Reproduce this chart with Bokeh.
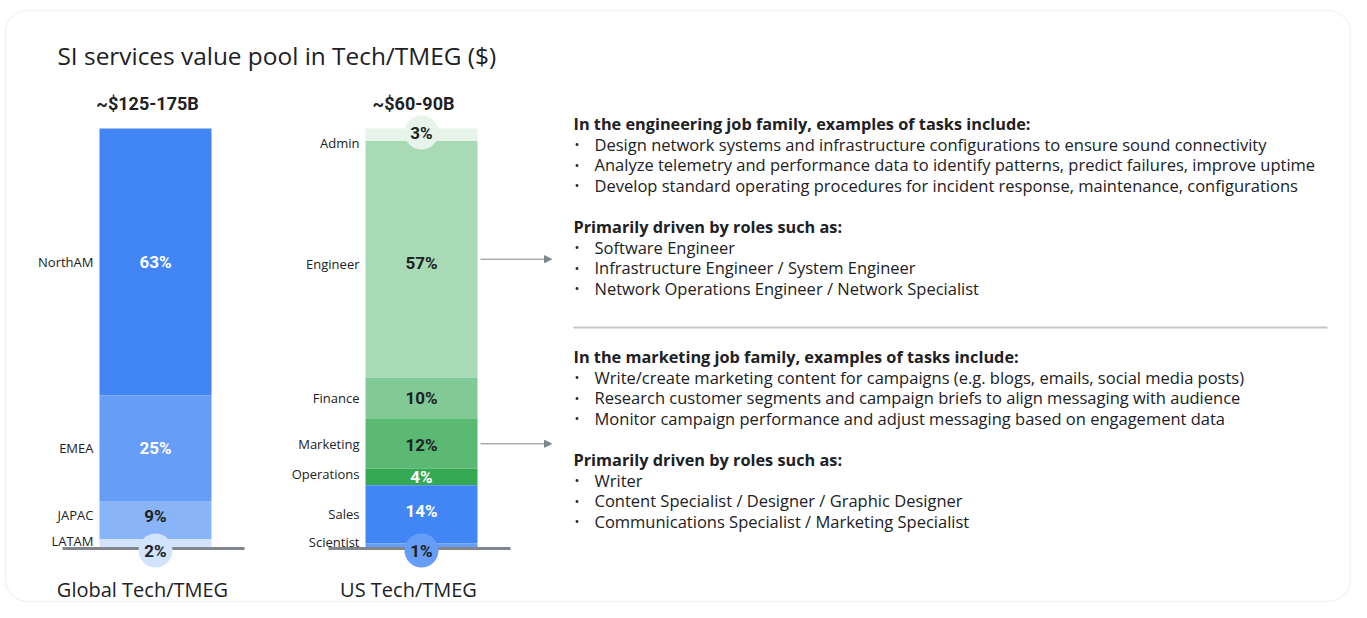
from bokeh.plotting import figure
from bokeh.models import Range1d, Arrow, NormalHead, BoxAnnotation
from bokeh.core.properties import value
from bokeh.embed import file_html
from bokeh.resources import INLINE

# ---------------- data ----------------
chart_title = "SI services value pool in Tech/TMEG ($)"
bar_names = ["Global Tech/TMEG", "US Tech/TMEG"]
bar_totals = ["~$125-175B", "~$60-90B"]

global_regions = ["NorthAM", "EMEA", "JAPAC", "LATAM"]
global_shares = [63, 25, 9, 2]

us_roles = ["Admin", "Engineer", "Finance", "Marketing", "Operations", "Sales", "Scientist"]
us_shares = [3, 57, 10, 12, 4, 14, 1]

eng_header = "In the engineering job family, examples of tasks include:"
eng_tasks = [
    "Design network systems and infrastructure configurations to ensure sound connectivity",
    "Analyze telemetry and performance data to identify patterns, predict failures, improve uptime",
    "Develop standard operating procedures for incident response, maintenance, configurations",
]
roles_header = "Primarily driven by roles such as:"
eng_roles = [
    "Software Engineer",
    "Infrastructure Engineer / System Engineer",
    "Network Operations Engineer / Network Specialist",
]
mkt_header = "In the marketing job family, examples of tasks include:"
mkt_tasks = [
    "Write/create marketing content for campaigns (e.g. blogs, emails, social media posts)",
    "Research customer segments and campaign briefs to align messaging with audience",
    "Monitor campaign performance and adjust messaging based on engagement data",
]
mkt_roles = [
    "Writer",
    "Content Specialist / Designer / Graphic Designer",
    "Communications Specialist / Marketing Specialist",
]

# ---------------- style ----------------
FONT = value("Open Sans")
FONT2 = value("Roboto")
DARK = "#202124"
global_colors = ["#4285f4", "#669df6", "#8ab4f8", "#d2e3fc"]
global_text_colors = ["white", "white", DARK, DARK]
global_cat_offsets = [0, 0, -5, -2]   # px
global_pct_offsets = [0, 0, -4, 0]
us_colors = ["#e6f4ea", "#a8dab5", "#81c995", "#5bb974", "#34a853", "#4285f4", "#669df6"]
us_text_colors = [DARK, DARK, DARK, DARK, "white", "white", DARK]
us_cat_offsets = [8, 5, 0, 0, -3, 0, -3]
us_pct_offsets = [0, 4, 0, 1, 0, -3, 0]

PX = 4.19      # pixels per percent
BASE = 547     # screen y of the 0 line


def Y(sy):
    return (BASE - sy) / PX


p = figure(width=1351, height=602, x_range=Range1d(0, 1351), y_range=Range1d(Y(602), Y(0)),
           output_backend="svg", toolbar_location=None, min_border=0,
           x_axis_location=None, y_axis_location=None)
p.grid.visible = False
p.outline_line_color = None
p.background_fill_color = "white"
p.border_fill_color = "white"

card = BoxAnnotation(left=5, right=1350, top=Y(10), bottom=Y(601), fill_color="white",
                     fill_alpha=1, line_color="#d6d6d6", line_width=1.5, border_radius=22,
                     level="underlay")
p.add_layout(card)

p.text(x=[57], y=[Y(55)], text=[chart_title], text_font=FONT, text_font_size="24.4px",
       text_color=DARK, text_baseline="middle", text_align="left")


def stack(shares):
    tot = float(sum(shares))
    tops, bots, c = [], [], 0.0
    for s in shares:
        tops.append(100 - c * 100 / tot)
        c += s
        bots.append(100 - c * 100 / tot)
    return tops, bots


HALF = 56
mids_all = []
for cx, cats, shares, colors, tcols, offs, poffs, total, name in [
    (155, global_regions, global_shares, global_colors, global_text_colors, global_cat_offsets,
     global_pct_offsets, bar_totals[0], bar_names[0]),
    (421, us_roles, us_shares, us_colors, us_text_colors, us_cat_offsets,
     us_pct_offsets, bar_totals[1], bar_names[1]),
]:
    tops, bots = stack(shares)
    mids = [(t + b) / 2 for t, b in zip(tops, bots)]
    mids_all.append(mids)
    p.quad(left=cx - HALF, right=cx + HALF, top=tops, bottom=bots, fill_color=colors, line_color=None)

    # baseline
    p.segment(x0=[cx - 93], x1=[cx + 89], y0=[Y(548)], y1=[Y(548)], line_color="#80868b", line_width=3)

    # category labels
    p.text(x=[cx - HALF - 6] * len(cats), y=[m - o / PX for m, o in zip(mids, offs)], text=cats,
           text_font=FONT, text_font_size="13px", text_color=DARK,
           text_align="right", text_baseline="middle")

    # percent labels (small segments shown in a circle)
    lx, ly, lt, lc = [], [], [], []
    cxs, cys, ccs = [], [], []
    for i, (s, m) in enumerate(zip(shares, mids)):
        if s <= 3:
            cy = Y(132) if i == 0 else Y(550)
            cxs.append(cx); cys.append(cy); ccs.append(colors[i])
            lx.append(cx); ly.append(cy)
        else:
            lx.append(cx); ly.append(m - poffs[i] / PX)
        lt.append(f"{s}%"); lc.append(tcols[i])
    p.scatter(x=cxs, y=cys, size=34, marker="circle", fill_color=ccs, line_color=None)
    p.text(x=lx, y=ly, text=lt, text_font=FONT2, text_font_size="17px", text_font_style="bold",
           text_color=lc, text_align="center", text_baseline="middle")

    p.text(x=[cx - 8], y=[Y(103)], text=[total], text_font=FONT2, text_font_size="18px",
           text_font_style="bold", text_color=DARK, text_align="center", text_baseline="middle")
    p.text(x=[cx - 13], y=[Y(589)], text=[name], text_font=FONT, text_font_size="20px",
           text_color=DARK, text_align="center", text_baseline="middle")

# arrows from Engineer and Marketing segments
us_mids = mids_all[1]
for idx in [us_roles.index("Engineer"), us_roles.index("Marketing")]:
    yy = us_mids[idx]
    p.add_layout(Arrow(end=NormalHead(size=7, fill_color="#80868b", line_color="#80868b", line_width=1),
                       x_start=480, y_start=yy, x_end=551, y_end=yy,
                       line_color="#80868b", line_width=1))

# right-hand text blocks
STEP = 20.6


def block(start_sy, header, tasks, roles):
    hx, hy, ht = [], [], []
    bx, by, bt = [], [], []
    y = start_sy
    for head, items in [(header, tasks), (roles_header, roles)]:
        hx.append(573); hy.append(Y(y)); ht.append(head)
        for it in items:
            y += STEP
            bx.append(594); by.append(Y(y)); bt.append(it)
        y += 2 * STEP
    p.text(x=hx, y=hy, text=ht, text_font=FONT, text_font_size="16.3px", text_font_style="bold",
           text_color=DARK, text_align="left", text_baseline="middle")
    p.text(x=bx, y=by, text=bt, text_font=FONT, text_font_size="16.5px",
           text_color=DARK, text_align="left", text_baseline="middle")
    p.text(x=[574] * len(by), y=by, text=["•"] * len(by), text_font=FONT, text_font_size="13px",
           text_color=DARK, text_align="left", text_baseline="middle")


block(123, eng_header, eng_tasks, eng_roles)
p.segment(x0=[573], x1=[1327], y0=[Y(327)], y1=[Y(327)], line_color="#c4c7c5", line_width=2)
block(356, mkt_header, mkt_tasks, mkt_roles)

open("out.html", "w").write(file_html(p, INLINE))
